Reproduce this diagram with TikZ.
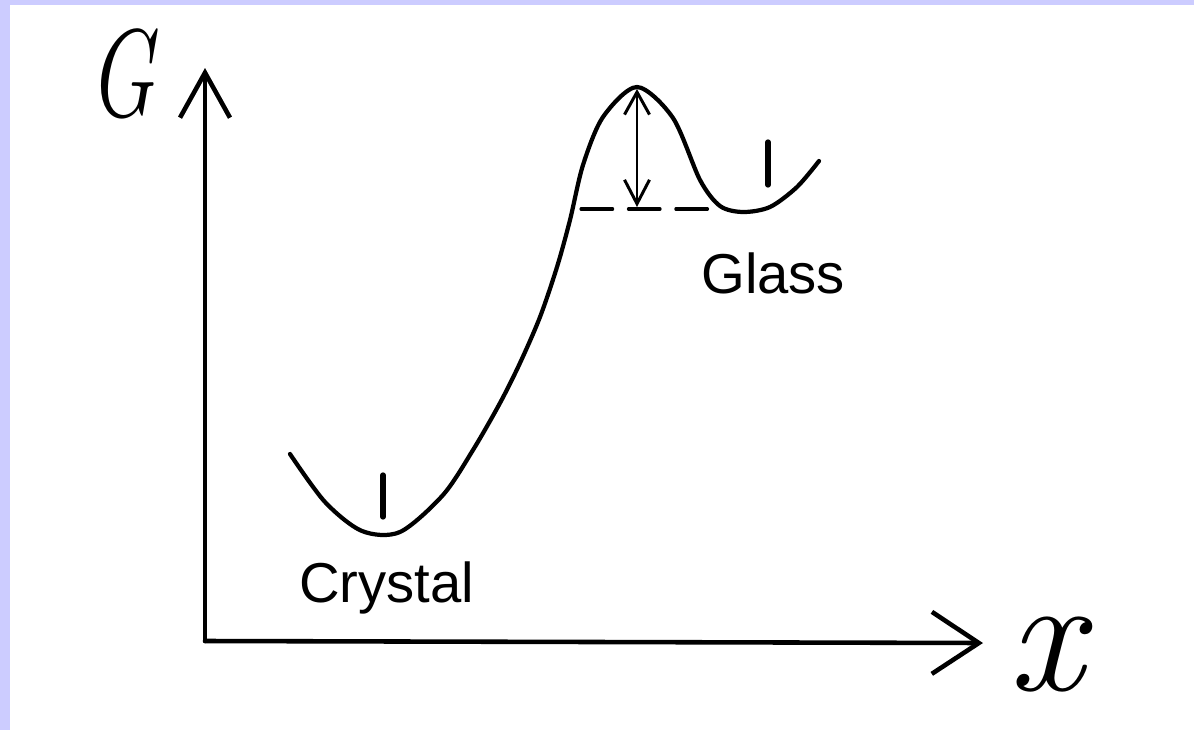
\documentclass[tikz,border=0pt]{standalone}
\usepackage{fontspec}
\usetikzlibrary{positioning,calc,arrows.meta}
\newfontfamily\labelfont{Liberation Sans}
\definecolor{framecol}{RGB}{204,204,255}

\begin{document}
\begin{tikzpicture}[x=0.02cm, y=-0.02cm, line cap=round, line join=round,
	axisline/.style={line width=2.6pt},
	curveline/.style={line width=2.4pt},
	statelabel/.style={font=\labelfont\fontsize{32}{36}\selectfont, inner sep=0pt, anchor=base west}]
		\useasboundingbox (0,0) rectangle (1194,730);
		% frame
		\fill [framecol] (0,0) rectangle (1194,5);
		\fill [framecol] (0,0) rectangle (10,730);
		% axis
		\coordinate (O) at (205,641);
		\coordinate (ytip) at (205,68);
		\coordinate (xtip) at (983,643);
		\draw [axisline, -{Straight Barb[length=0.9cm, width=1.0cm]}] (O) -- (ytip);
		\draw [axisline, -{Straight Barb[length=0.94cm, width=1.24cm]}] (O) -- (xtip);
		% curve
		\draw [curveline] plot[smooth, tension=0.5] coordinates {
			(290,454) (325,502) (362,531) (400,532) (443,495) (473,450)
			(500,403) (520,363) (540,317) (557,267) (570,220) (583,165)
			(603,117) (637,87) (673,118) (700,180) (720,206) (743,212)
			(770,207) (797,187) (819,161)};
		% barrier
		\coordinate (peak) at (637,89);
		\coordinate (base) at (637,207);
		\draw [line width=1.8pt, dash pattern=on 18pt off 9pt] (581,209) -- (716,209);
		\draw [line width=1.7pt, {Straight Barb[length=0.45cm, width=0.5cm]}-{Straight Barb[length=0.48cm, width=0.5cm]}] (peak) -- (base);
		% ticks
		\draw [line width=3pt] (383,475) -- (383,517);
		\draw [line width=3pt] (768,142) -- (768,185);
		% symbols
		\node (Glab) at (122,74) {\scalebox{0.7}[1]{\fontsize{71}{71}\selectfont\itshape G}};
		\node (xlab) at (1046,655) {\fontsize{95}{95}\selectfont\itshape x};
		\node [statelabel] (crystal) at (299,602) {Crystal};
		\node [statelabel] (glass) at (701,293) {Glass};
	\end{tikzpicture}
\end{document}
